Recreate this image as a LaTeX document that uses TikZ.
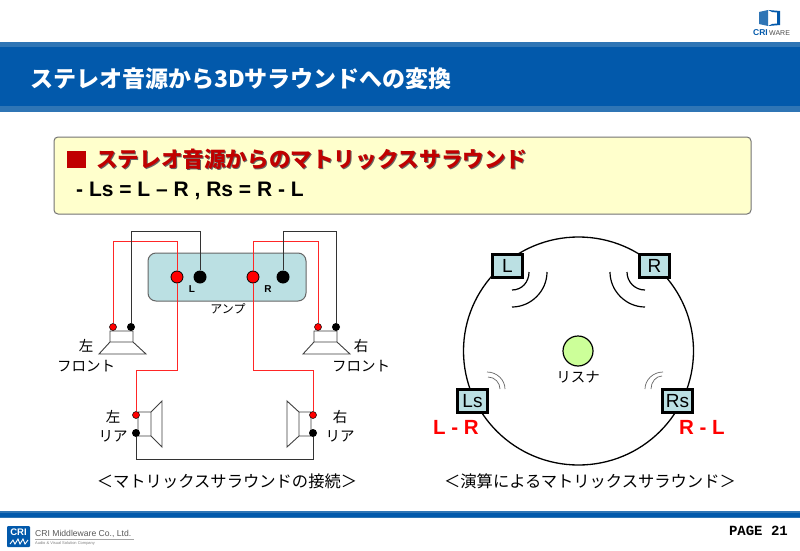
\documentclass[tikz,border=0pt]{standalone}
\usepackage{fontspec}
\setmainfont{Liberation Sans}
\newfontfamily\jpfont{Noto Sans CJK JP}
\newfontfamily\pagefont{Liberation Mono}
\usetikzlibrary{arrows.meta}
\definecolor{bandblue}{HTML}{0259AB}
\definecolor{bandlight}{HTML}{2F75B5}
\definecolor{boxyellow}{HTML}{FFFFCC}
\definecolor{amplight}{HTML}{BBE0E3}
\definecolor{headred}{HTML}{C00000}
\definecolor{listenergreen}{HTML}{CCFF99}
\tikzset{
    jptext/.style={font=\jpfont\fontsize{14.5}{16}\selectfont, inner sep=0pt, text=black},
    wirered/.style={red!85!white, line width=1pt},
    wireblack/.style={black!80, line width=1pt},
    termred/.style={circle, draw=black, line width=0.5pt, fill=red, inner sep=0pt, minimum size=7pt},
    termblack/.style={circle, fill=black, inner sep=0pt, minimum size=8pt},
    bigred/.style={circle, draw=black, line width=0.8pt, fill=red, inner sep=0pt, minimum size=12pt},
    bigblack/.style={circle, fill=black, inner sep=0pt, minimum size=13pt},
    speakerline/.style={draw=black!75, line width=0.9pt, fill=white},
    spkbox/.style={draw=black, line width=2.2pt, fill=amplight, inner sep=0pt, minimum width=30pt, minimum height=23pt, font=\fontsize{19}{20}\selectfont},
    soundbig/.style={black, line width=1.2pt},
    soundthin/.style={black!60, line width=0.7pt},
    diffred/.style={text=red, font=\bfseries\fontsize{20.5}{22}\selectfont, inner sep=0pt},
}
\begin{document}
\begin{tikzpicture}[x=1pt,y=-1pt]
    \useasboundingbox (0,0) rectangle (800,551);
    \fill[white] (0,0) rectangle (800,551);
    % Title band
    \fill[bandlight] (0,42) rectangle (800,112);
    \fill[bandblue] (0,47) rectangle (800,106);
    \node[anchor=west, inner sep=0pt, text=white, font=\jpfont\bfseries\fontsize{23}{25}\selectfont] (title) at (30,79) {ステレオ音源から3Dサラウンドへの変換};
    % Logo top right
    \fill[bandlight] (759,12) -- (768,10) -- (768,26) -- (759,24) -- cycle;
    \fill[bandblue] (768,10) -- (780,11) -- (780,25) -- (768,26) -- (772,24) -- (777,23.5) -- (777,12.5) -- (772,12) -- cycle;
    \node[inner sep=0pt, anchor=west, font=\bfseries\fontsize{8.5}{9}\selectfont, text=bandblue] (logocri) at (753,33) {CRI};
    \node[inner sep=0pt, anchor=west, font=\fontsize{7}{9}\selectfont, text=black!70] (logoware) at (769,33) {WARE};
    % Yellow box
    \draw[black!55, line width=1pt, fill=boxyellow, rounded corners=4pt] (54,137) rectangle (751,214);
    \fill[headred] (67,151) rectangle (86,168);
    \node[anchor=west, inner sep=0pt, text=black!60, font=\jpfont\bfseries\fontsize{21.6}{24}\selectfont] (headshadow) at (97,160.5) {ステレオ音源からのマトリックスサラウンド};
    \node[anchor=west, inner sep=0pt, text=headred, font=\jpfont\bfseries\fontsize{21.6}{24}\selectfont] (head) at (96,159.5) {ステレオ音源からのマトリックスサラウンド};
    \node[anchor=west, inner sep=0pt, font=\bfseries\fontsize{21}{23}\selectfont] (formula) at (76,191) {- Ls = L – R , Rs = R - L};
    % Amp
    \draw[black!60, line width=1pt, fill=amplight, rounded corners=8pt] (148,253) rectangle (306,301);
    \node[bigred] (ampredl) at (177,277) {};
    \node[bigblack] (ampblackl) at (200,277) {};
    \node[bigred] (ampredr) at (253,277) {};
    \node[bigblack] (ampblackr) at (283,277) {};
    \node[inner sep=0pt, font=\bfseries\fontsize{10}{12}\selectfont] (ampl) at (192,289) {L};
    \node[inner sep=0pt, font=\bfseries\fontsize{10}{12}\selectfont] (ampr) at (268,289) {R};
    \node[jptext, font=\jpfont\fontsize{12}{14}\selectfont] (amp) at (228,309) {アンプ};
    % Front speakers
    \foreach \x in {99,303}
        \draw[speakerline] (\x+11,331) rectangle (\x+34,342) (\x+11,342) -- (\x,354) -- (\x+47,354) -- (\x+34,342);
    % Rear speakers
    \draw[speakerline] (138,412) rectangle (151,436) (151,412) -- (162,401) -- (162,447) -- (151,436);
    \draw[speakerline] (311,412) rectangle (299,436) (299,412) -- (287,401) -- (287,447) -- (299,436);
    % Speaker terminals
    \node[termred] (flred) at (113,327) {};
    \node[termblack] (flblack) at (131,327) {};
    \node[termred] (frred) at (318,327) {};
    \node[termblack] (frblack) at (336,327) {};
    \node[termred] (rlred) at (136,415) {};
    \node[termblack] (rlblack) at (136,433) {};
    \node[termred] (rrred) at (313,415) {};
    \node[termblack] (rrblack) at (313,433) {};
    % Wires
    \draw[wirered] (ampredl.north) -- ++(0,-29) -| (flred.north);
    \draw[wireblack] (ampblackl.north) -- ++(0,-39) -| (flblack.north);
    \draw[wirered] (ampredr.north) -- ++(0,-29) -| (frred.north);
    \draw[wireblack] (ampblackr.north) -- ++(0,-39) -| (frblack.north);
    \draw[wirered] (ampredl.south) -- ++(0,87) -| (rlred.north);
    \draw[wirered] (ampredr.south) -- ++(0,87) -| (rrred.north);
    \draw[wireblack] (rlblack.south) -- ++(0,22) -| (rrblack.south);
    % Speaker labels
    \node[jptext] (fll) at (86,346) {左};
    \node[jptext] (flt) at (86,366) {フロント};
    \node[jptext] (frl) at (361,346) {右};
    \node[jptext] (frt) at (361,366) {フロント};
    \node[jptext] (rll) at (113,417) {左};
    \node[jptext] (rlt) at (113,436) {リア};
    \node[jptext] (rrl) at (340,417) {右};
    \node[jptext] (rrt) at (340,436) {リア};
    \node[jptext, font=\jpfont\fontsize{16.3}{20}\selectfont] (capleft) at (227,481) {＜マトリックスサラウンドの接続＞};
    % Right circle
    \draw[black, line width=1.3pt] (578.5,351) ellipse [x radius=115pt, y radius=114pt];
    \node[spkbox] (spkl) at (507.5,266) {L};
    \node[spkbox] (spkr) at (654.5,266) {R};
    \node[spkbox] (spkls) at (472.5,401) {Ls};
    \node[spkbox] (spkrs) at (677.5,401) {Rs};
    \node[circle, draw=black, line width=1.2pt, fill=listenergreen, inner sep=0pt, minimum size=30pt] (listener) at (578,351) {};
    \node[jptext] (listenertext) at (578,377) {リスナ};
    % Sound waves
    \draw[soundbig] (529,272) .. controls (529,282) and (522,290) .. (512,290);
    \draw[soundbig] (547,272) .. controls (547,291) and (531,307) .. (512,307);
    \draw[soundbig] (627,272) .. controls (627,282) and (635,290) .. (645,290);
    \draw[soundbig] (610,272) .. controls (610,291) and (626,307) .. (645,307);
    \draw[soundthin] (487,372) .. controls (497,372) and (505,380) .. (505,389);
    \draw[soundthin] (488,377) .. controls (495,377) and (500,383) .. (500,389);
    \draw[soundthin] (663,372) .. controls (653,372) and (645,380) .. (645,389);
    \draw[soundthin] (662,376) .. controls (656,376) and (651,382) .. (651,389);
    \node[diffred] (diffl) at (456,427) {L - R};
    \node[diffred] (diffr) at (702,427) {R - L};
    \node[jptext, font=\jpfont\fontsize{16.3}{20}\selectfont] (capright) at (590,481) {＜演算によるマトリックスサラウンド＞};
    % Footer
    \fill[bandlight] (0,511) rectangle (800,518);
    \fill[bandblue] (0,512.5) rectangle (800,516.5);
    \fill[bandblue, rounded corners=1pt] (7,526) rectangle (30,547);
    \node[inner sep=0pt, text=white, font=\bfseries\fontsize{9.5}{10}\selectfont] (footcri) at (18.5,532.5) {CRI};
    \draw[white, line width=0.9pt] (10,544) -- (13,540) -- (15,544) -- (18,539) -- (20,544) -- (23,539) -- (25,544) -- (28,540);
    \node[anchor=west, inner sep=0pt, text=black!65, font=\fontsize{8.6}{11}\selectfont] (footname) at (35,534) {CRI Middleware Co., Ltd.};
    \draw[black!35, line width=0.5pt] (35,539.5) -- (134,539.5);
    \node[anchor=west, inner sep=0pt, text=black!50, font=\fontsize{4}{5}\selectfont] (footsub) at (35,543) {Audio \& Visual Solution Company};
    \node[anchor=east, inner sep=0pt, font=\pagefont\bfseries\fontsize{14}{16}\selectfont] (pagenum) at (788,531) {PAGE 21};
\end{tikzpicture}
\end{document}
